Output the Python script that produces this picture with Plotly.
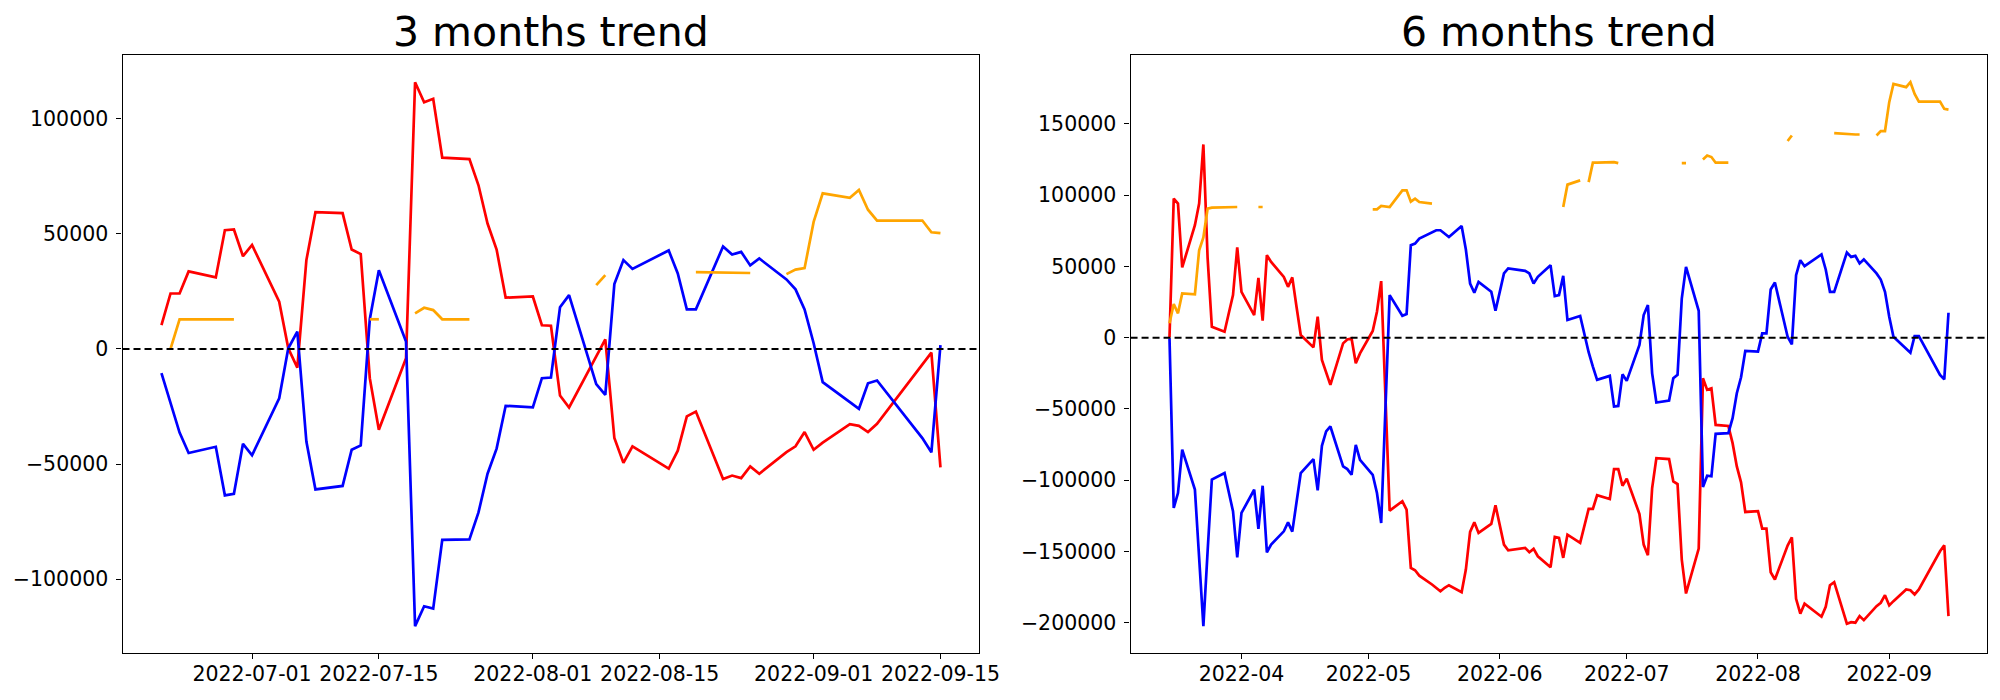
import pandas as pd
import plotly.graph_objects as go

# ---------------- data (values in thousands) ----------------
UNIT = 1000
HOLIDAYS = ["2022-05-05", "2022-06-01", "2022-06-06", "2022-08-15", "2022-09-09", "2022-09-12"]


def trading_days(start, end):
    d = pd.bdate_range(start, end)
    return d[~d.isin(pd.to_datetime(HOLIDAYS))]


dates_3m = trading_days("2022-06-21", "2022-09-15")
dates_6m = trading_days("2022-03-15", "2022-09-15")

N = None

red_3m = [
    10.4, 24.1, 24.1, 33.7,
    31.1, 51.6, 51.9, 40.3, 45.2,
    20.5, 0.3, -8.1, 38.6, 59.4,
    59.0, 43.2, 41.2, -12.7, -35.1,
    -4.0, 115.9, 107.2, 108.7, 83.1,
    82.5, 71.1, 54.5, 43.2, 22.3,
    22.8, 10.3, 10.1, -20.2, -25.4,
    -3.2, 4.2, -38.7, -49.5, -42.3,
    -52.0, -44.2, -29.3, -27.2,
    -56.5, -55.0, -56.1, -51.0, -54.2,
    -44.8, -42.3, -36.1, -43.8, -40.7,
    -32.7, -33.4, -36.1, -32.5,
    -6.9, -1.6, -51.4,
]
blue_3m = [
    -10.5, -23.4, -36.3, -45.2,
    -42.5, -63.6, -62.9, -41.2, -46.2,
    -21.4, 0.3, 7.5, -40.2, -61.0,
    -59.5, -43.8, -41.9, 12.9, 34.2,
    3.2, -120.4, -111.8, -112.8, -82.9,
    -82.7, -71.0, -54.2, -43.3, -24.7,
    -25.4, -12.7, -12.4, 18.1, 23.4,
    -15.3, -19.9, 28.2, 38.6, 34.8,
    42.8, 32.8, 17.2, 17.2,
    44.5, 41.0, 42.2, 36.3, 39.3,
    30.2, 25.9, 17.2, 2.5, -14.4,
    -23.1, -26.0, -14.9, -13.7,
    -38.7, -44.9, 1.7,
]
orange_3m = [
    N, 0.0, 12.9, 12.9,
    12.9, 13.2, 12.9, N, N,
    N, N, N, N, N,
    N, N, N, 12.9, 12.9,
    N, 15.5, 17.9, 16.9, 12.9,
    12.9, N, N, N, N,
    N, N, N, N, N,
    27.7, 32.1, N, N, N,
    N, N, N, 33.4,
    33.2, 33.0, 33.0, 33.0, N,
    32.5, 34.5, 35.1, 55.2, 67.6,
    65.7, 69.1, 60.5, 55.8,
    55.8, 50.7, 50.3,
]

red_6m = [
    0.5, 97.6, 94.1, 49.3,
    78.9, 94.1, 135.6, 56.0, 7.7,
    4.2, 17.1, 29.9, 63.3, 32.2,
    15.9, 42.0, 11.9, 57.9, 53.2,
    42.7, 35.7, 42.3, 21.7, 1.9,
    -6.8, 14.7, -15.6, -25.0, -33.1,
    -4.0, -1.2, -0.5, -18.0, -11.0,
    4.7, 18.2, 39.7, -121.4,
    -114.8, -120.7, -161.5, -163.2, -167.0,
    -173.2, -175.5, -177.9, -175.5, -173.7,
    -178.6, -162.7, -136.3, -129.6, -137.0,
    -130.7, -117.6, -145.2, -149.2,
    -147.5, -150.6, -148.2, -153.4,
    -161.1, -139.8, -140.5, -154.5, -138.2,
    -144.0, -132.4, -120.2, -120.2, -110.6,
    -113.2, -92.2, -92.2, -103.9, -99.0,
    -123.7, -145.2, -152.7, -105.5, -84.5,
    -85.2, -100.8, -102.7, -155.7, -179.5,
    -148.0, -28.5, -36.6, -35.5, -61.2,
    -61.9, -74.0, -90.3, -101.5, -122.3,
    -121.8, -134.0, -134.0, -164.6, -169.7,
    -145.9, -140.1, -183.2, -193.7, -186.7,
    -195.8, -188.8, -173.7, -171.6,
    -200.7, -199.6, -200.0, -195.4, -198.2,
    -188.4, -186.0, -180.7, -187.9, -184.9,
    -176.7, -177.2, -180.2, -176.7,
    -149.9, -145.7, -195.4,
]
blue_6m = [
    -0.5, -119.5, -109.0, -78.6,
    -106.6, -155.0, -202.4, -150.0, -99.6,
    -95.0, -109.0, -121.8, -154.1, -123.0,
    -106.7, -134.2, -103.9, -150.6, -145.2,
    -135.9, -129.6, -136.1, -115.5, -95.0,
    -85.2, -107.1, -75.9, -65.8, -62.3,
    -90.3, -92.2, -96.2, -75.2, -85.7,
    -96.2, -109.0, -130.0, 29.9,
    15.4, 16.6, 64.9, 66.1, 69.6,
    74.0, 75.4, 75.4, 73.1, 70.7,
    78.4, 61.9, 38.0, 31.5, 39.2,
    32.2, 18.9, 45.1, 48.6,
    46.9, 45.1, 38.0, 42.7,
    50.9, 29.2, 29.9, 43.4, 12.4,
    15.2, 2.0, -10.2, -20.3, -29.6,
    -26.8, -48.3, -47.9, -25.7, -30.3,
    -5.1, 15.9, 22.9, -25.0, -45.5,
    -44.1, -28.5, -26.1, 27.5, 49.7,
    18.9, -104.8, -96.9, -97.3, -67.5,
    -67.0, -56.5, -39.0, -27.8, -9.3,
    -9.8, 3.0, 3.0, 33.8, 38.7,
    0.7, -4.7, 43.9, 54.4, 50.2,
    58.4, 47.9, 32.2, 32.2,
    59.8, 56.7, 57.4, 52.1, 54.9,
    45.1, 40.8, 32.2, 14.7, 0.7,
    -7.8, -10.5, 1.2, 1.2,
    -26.1, -29.2, 17.5,
]
orange_6m = [
    10.1, 23.6, 17.1, 31.1,
    30.4, 61.4, 70.3, 90.6, 91.3,
    91.7, 91.7, 91.7, 91.7, N,
    N, 91.7, 91.7, N, N,
    N, N, N, N, N,
    N, N, N, N, N,
    N, N, N, N, N,
    90.1, 90.1, 92.4, 91.7,
    103.4, 103.4, 95.5, 97.6, 95.2,
    94.1, N, N, N, N,
    N, N, N, N, N,
    N, N, N, N,
    N, N, N, N,
    N, N, N, 91.7, 107.4,
    110.4, N, 109.2, 122.8, 122.8,
    122.8, 123.2, 122.5, N, N,
    N, N, N, N, N,
    N, N, N, 122.5, 122.5,
    N, 125.1, 127.9, 126.8, 122.8,
    122.8, N, N, N, N,
    N, N, N, N, N,
    138.0, 141.9, N, N, N,
    N, N, N, 143.6,
    142.8, 142.6, 142.6, 142.6, N,
    141.9, 145.0, 145.0, 165.3, 178.1,
    175.8, 179.3, 171.1, 165.7,
    165.7, 160.6, 160.1,
]

titles = ["3 months trend", "6 months trend"]
ticks_3m = ["2022-07-01", "2022-07-15", "2022-08-01", "2022-08-15", "2022-09-01", "2022-09-15"]
ticks_6m = ["2022-04", "2022-05", "2022-06", "2022-07", "2022-08", "2022-09"]
ytick_3m = [-100000, -50000, 0, 50000, 100000]
ytick_6m = [-200000, -150000, -100000, -50000, 0, 50000, 100000, 150000]


def scaled(vals):
    return [None if v is None else v * UNIT for v in vals]


# ---------------- figure ----------------
# page body margin of 8px; the photographed page appears compressed
# horizontally by ~1.1%, so horizontal positions are pre-stretched.
OFF = 8
SX = 0.989
W, H = 2006, 700 - 2 * OFF
FONT = "DejaVu Sans"
fig = go.Figure()

panels = [
    (dates_3m, red_3m, blue_3m, orange_3m, "x", "y"),
    (dates_6m, red_6m, blue_6m, orange_6m, "x2", "y2"),
]
for d, r, b, o, xa, ya in panels:
    for vals, col in ((r, "red"), (b, "blue"), (o, "orange")):
        fig.add_trace(go.Scatter(x=d, y=scaled(vals), mode="lines",
                                 line=dict(color=col, width=2.7),
                                 connectgaps=False, showlegend=False,
                                 xaxis=xa, yaxis=ya, hoverinfo="skip"))


def xrange(d):
    s, e = d[0], d[-1]
    m = (e - s) * 0.05
    return [s - m, e + m]


def yrange(series):
    vals = [v * UNIT for s in series for v in s if v is not None]
    lo, hi = min(vals), max(vals)
    m = (hi - lo) * 0.05
    return [lo - m, hi + m]


axis_common = dict(showline=True, mirror=True, linecolor="black", linewidth=1.2,
                   ticks="outside", ticklen=5, tickwidth=1.2, tickcolor="black",
                   showgrid=False, zeroline=False,
                   tickfont=dict(family=FONT, size=20.5, color="black"))


def px_x(x):
    return min(1.0, (x / SX - OFF) / W)


def px_y(y):
    return (H - (y - OFF)) / H


dom1 = [px_x(122.3), px_x(978.3)]
dom2 = [px_x(1129.3), px_x(1985.3)]
ydom = [px_y(653.3), px_y(55)]

fig.update_layout(
    width=W, height=H,
    margin=dict(l=0, r=0, t=0, b=0),
    paper_bgcolor="white", plot_bgcolor="white",
    xaxis=dict(domain=dom1, range=xrange(dates_3m), anchor="y", type="date",
               tickvals=pd.to_datetime(ticks_3m), ticktext=ticks_3m,
               ticklabelstandoff=-3, **axis_common),
    yaxis=dict(domain=ydom, range=yrange([red_3m, blue_3m, orange_3m]), anchor="x",
               tickvals=ytick_3m, tickformat="d", ticklabelstandoff=4, **axis_common),
    xaxis2=dict(domain=dom2, range=xrange(dates_6m), anchor="y2", type="date",
                tickvals=pd.to_datetime([t + "-01" for t in ticks_6m]), ticktext=ticks_6m,
                ticklabelstandoff=-3, **axis_common),
    yaxis2=dict(domain=ydom, range=yrange([red_6m, blue_6m, orange_6m]), anchor="x2",
                tickvals=ytick_6m, tickformat="d", ticklabelstandoff=4, **axis_common),
)

for xa, ya in (("x", "y"), ("x2", "y2")):
    fig.add_shape(type="line", xref=f"{xa} domain", yref=ya, x0=0, x1=1, y0=0, y1=0,
                  line=dict(color="black", width=2, dash="7px,4px"))

for dom, t in ((dom1, titles[0]), (dom2, titles[1])):
    fig.add_annotation(text=t, xref="paper", yref="paper",
                       x=(dom[0] + dom[1]) / 2, y=px_y(32),
                       xanchor="center", yanchor="middle", showarrow=False,
                       font=dict(family=FONT, size=41, color="black"))

fig.write_html("out.html")
